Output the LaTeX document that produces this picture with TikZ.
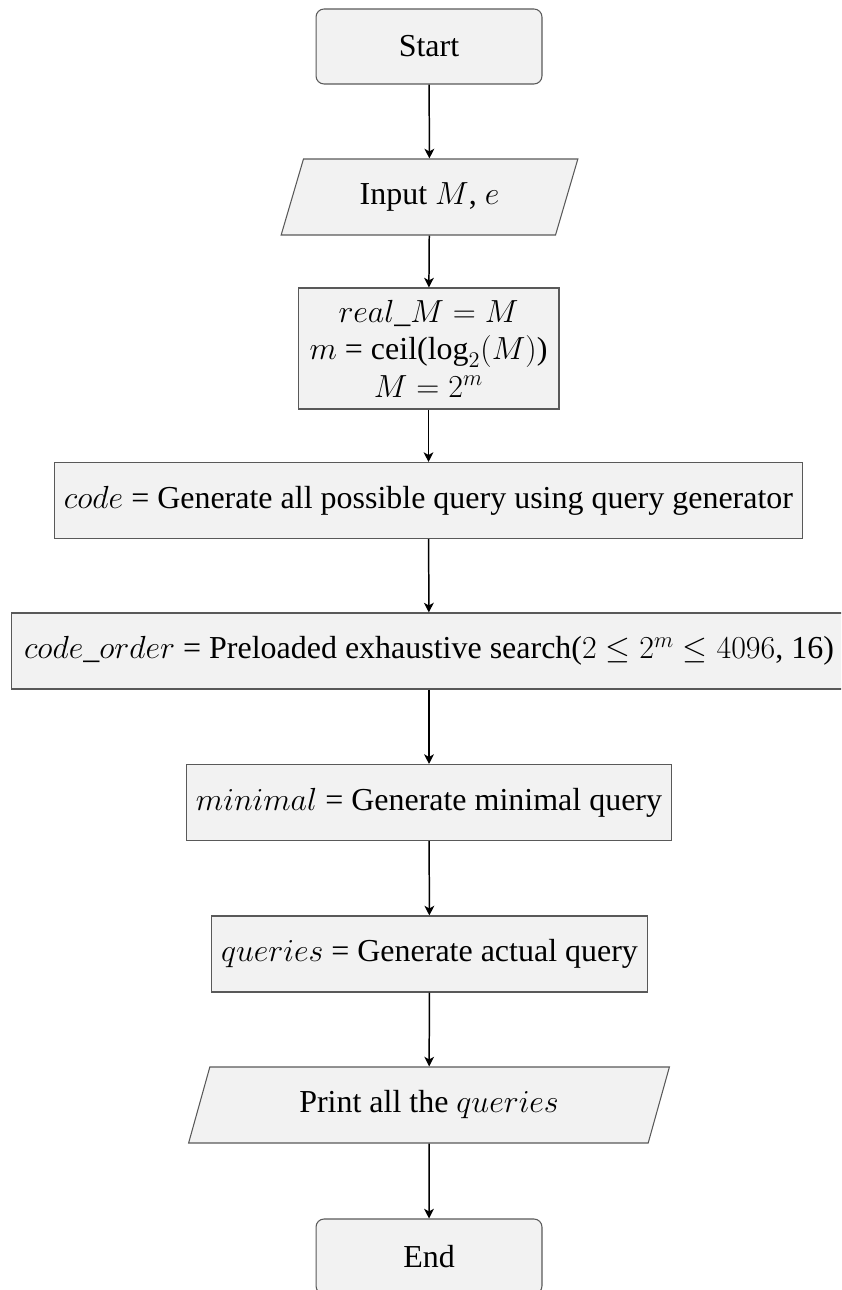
\RequirePackage{fix-cm}
\documentclass[tikz,border=0pt]{standalone}
\usepackage{amsmath, amssymb}
\usepackage{fontspec}
\setmainfont{Liberation Serif}
\usepackage{tikz}
\usetikzlibrary{shapes.geometric}
\usetikzlibrary{arrows.meta}

\begin{document}
\begin{tikzpicture}[x=0.02cm,y=-0.02cm,
  box/.style={draw=black!65,fill=black!5,line width=0.6pt,align=center,inner sep=2pt,
    font=\fontsize{18.2}{21.4}\selectfont},
  term/.style={box,rounded corners=0.16cm,minimum width=4.52cm,minimum height=1.5cm},
  io/.style={box,trapezium,trapezium left angle=70,trapezium right angle=110,
    trapezium stretches=true,minimum height=1.52cm},
  proc/.style={box,minimum height=1.52cm},
  flow/.style={-{Stealth[length=5.5pt,width=5.5pt,inset=1.5pt]},line width=0.85pt}]
\clip (0,0) rectangle (841,1290);

\node[term] (start) at (429,46.5) {Start};
\node[io,minimum width=5.98cm] (input) at (429.5,197) {Input $M$, $e$};
\node[proc,minimum width=5.22cm,minimum height=2.42cm] (init) at (428.5,348.5)
  {$real\_M = M$\\ $m$ = ceil($\log_2(M)$)\\ $M = 2^m$};
\node[proc,minimum width=14.98cm] (code) at (428.5,500.5)
  {$code$ = Generate all possible query using query generator};
\node[proc,minimum width=16.72cm] (order) at (429,651)
  {$code\_order$ = Preloaded exhaustive search($2 \leq 2^m \leq 4096$, 16)};
\node[proc,minimum width=9.72cm] (minimal) at (429,802.5)
  {$minimal$ = Generate minimal query};
\node[proc,minimum width=8.74cm] (queries) at (429.5,954)
  {$queries$ = Generate actual query};
\node[io,minimum width=9.64cm] (print) at (429,1105) {Print all the $queries$};
\node[term] (end) at (429,1256.5) {End};

\draw[flow] (start) -- (input);
\draw[flow] (input) -- (init);
\draw[flow] (init) -- (code);
\draw[flow] (code) -- (order);
\draw[flow] (order) -- (minimal);
\draw[flow] (minimal) -- (queries);
\draw[flow] (queries) -- (print);
\draw[flow] (print) -- (end);
\end{tikzpicture}
\end{document}
